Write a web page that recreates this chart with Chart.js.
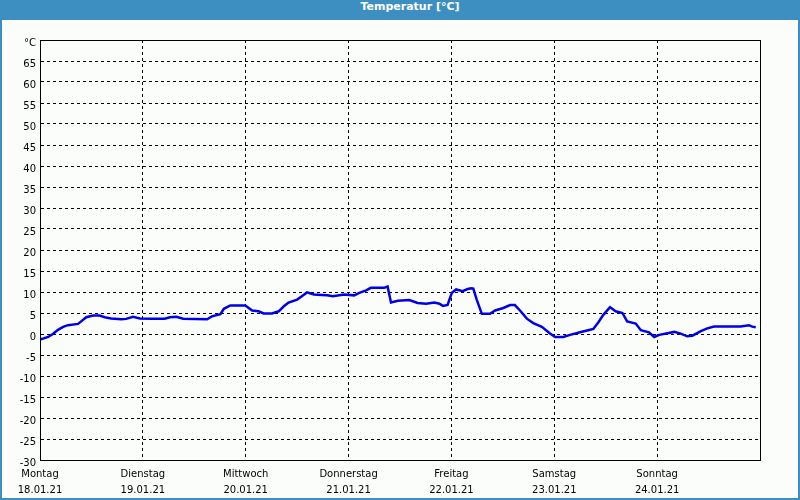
<!DOCTYPE html>
<html>
<head>
<meta charset="utf-8">
<script src="https://cdn.jsdelivr.net/npm/chart.js@4/dist/chart.umd.min.js"></script>
<style>
  body { margin: 0; background: #ffffff; }
  #rahmen {
    width: 796px; height: 498px;
    border: 2px solid #3d8fc1; border-top: none;
    background: #fbfdfb;
  }
  #titel {
    height: 20px; line-height: 20px;
    margin: 0 -2px;
    background: #3d8fc1; color: #ffffff;
    font: bold 11px "DejaVu Sans", sans-serif;
    text-align: center; padding-left: 20px;
  }
</style>
</head>
<body>
<div id="rahmen">
  <div id="titel">Temperatur [°C]</div>
  <canvas id="grafikTemperatur" width="796" height="478"></canvas>
</div>
<script>
// Wochentage und Datum unter den senkrechten Linien
const tage = ["Montag", "Dienstag", "Mittwoch", "Donnerstag", "Freitag", "Samstag", "Sonntag"]
const datum = ["18.01.21", "19.01.21", "20.01.21", "21.01.21", "22.01.21", "23.01.21", "24.01.21"]

// Messzeit in Stunden ab Montag 0:00
const stunden = [0, 1.9, 3.0, 4.2, 5.4, 6.5, 8.9, 9.6, 10.8, 12.4, 13.9, 15.1, 16.6, 19.0, 20.1, 21.7, 23.3,
  26.0, 29.1, 30.3, 31.8, 33.4, 39.0, 40.1, 42.1, 42.9, 44.4, 47.9,
  48.7, 49.5, 51.0, 52.2, 54.1, 55.7, 56.9, 58.0, 60.0, 61.1, 62.3, 63.9, 65.8, 67.0, 68.3, 71.0,
  73.3, 74.5, 76.1, 77.2, 80.3, 81.1, 81.9, 83.5, 86.2, 88.1, 90.1, 92.0, 93.2, 94.0, 95.1,
  96.1, 97.1, 98.6, 99.8, 100.6, 101.1, 101.9, 103.1, 105.0, 106.2, 108.1, 109.7, 110.8, 112.0, 113.6, 115.1, 117.1, 119.0,
  120.2, 122.1, 123.7, 126.0, 127.9, 129.1, 130.3, 131.4, 133.0, 134.3, 135.9, 137.0, 139.0, 140.2, 142.1, 143.3,
  144.5, 146.4, 148.0, 149.5, 151.0, 152.2, 154.2, 155.7, 157.3, 161.9, 163.5, 165.4, 166.2, 167.0]

// Temperatur in °C
const temperatur = [-1.35, -0.7, 0.0, 1.0, 1.7, 2.1, 2.4, 3.0, 4.0, 4.4, 4.4, 4.0, 3.7, 3.5, 3.6, 4.1, 3.7,
  3.65, 3.65, 4.0, 4.1, 3.65, 3.5, 4.2, 4.7, 6.0, 6.8, 6.8,
  6.2, 5.6, 5.4, 4.9, 4.9, 5.4, 6.6, 7.5, 8.2, 9.0, 9.9, 9.4, 9.3, 9.2, 9.0, 9.4,
  9.2, 9.8, 10.4, 11.0, 11.0, 11.3, 7.5, 7.9, 8.1, 7.4, 7.2, 7.5, 7.2, 6.7, 6.9,
  9.8, 10.6, 10.2, 10.7, 10.9, 10.8, 8.2, 4.8, 4.8, 5.6, 6.2, 6.9, 6.9, 5.6, 3.65, 2.6, 1.7, 0.1,
  -0.7, -0.7, -0.2, 0.4, 0.9, 1.2, 2.8, 4.5, 6.4, 5.4, 5.0, 3.0, 2.5, 0.9, 0.4, -0.7,
  -0.2, 0.2, 0.5, 0.1, -0.55, -0.4, 0.7, 1.35, 1.8, 1.8, 1.8, 2.1, 1.75, 1.6]

const yTicks = [-30, -25, -20, -15, -10, -5, 0, 5, 10, 15, 20, 25, 30, 35, 40, 45, 50, 55, 60, 65, 70]

let punkte = stunden.map((h, i) => ({ x: h, y: temperatur[i] }))

const schrift = { family: "DejaVu Sans", size: 10 }

// Rahmen um die Zeichenfläche
const rahmenPlugin = {
  id: 'rahmenPlugin',
  afterDraw(chart) {
    const { ctx, chartArea } = chart
    ctx.save()
    ctx.strokeStyle = '#000000'
    ctx.lineWidth = 1
    ctx.strokeRect(chartArea.left + 0.5, chartArea.top + 0.5, chartArea.right - chartArea.left, chartArea.bottom - chartArea.top)
    ctx.restore()
  }
}

const grafikTemperatur = document.getElementById('grafikTemperatur')
const grafik = new Chart(grafikTemperatur, {
  type: 'line',
  data: {
    datasets: [{
      label: 'Temperatur',
      data: punkte,
      borderColor: '#0000e6',
      borderWidth: 2.5,
      pointRadius: 0,
      tension: 0
    }]
  },
  options: {
    responsive: false,
    animation: false,
    layout: { padding: { left: 0, right: 38, top: 20, bottom: 0 } },
    plugins: { legend: { display: false }, tooltip: { enabled: false } },
    scales: {
      x: {
        type: 'linear',
        min: 0,
        max: 168,
        afterBuildTicks: scale => {
          scale.ticks = [0, 24, 48, 72, 96, 120, 144, 168].map(v => ({ value: v }))
        },
        afterFit: scale => { scale.height = 38 },
        ticks: {
          autoSkip: false,
          maxRotation: 0,
          padding: 6,
          color: '#000000',
          font: { ...schrift, lineHeight: 1.65 },
          callback: (v) => {
            let i = Math.round(v / 24)
            return i < tage.length ? [tage[i], datum[i]] : ''
          }
        },
        grid: { color: '#000000', lineWidth: 1, drawTicks: false },
        border: { color: '#000000', dash: [3, 3] }
      },
      y: {
        min: -30,
        max: 70,
        afterBuildTicks: scale => {
          scale.ticks = yTicks.map(v => ({ value: v }))
        },
        afterFit: scale => { scale.width = 38 },
        ticks: {
          padding: 4,
          color: '#000000',
          font: schrift,
          labelOffset: 3,
          callback: v => v === 70 ? '°C' : v
        },
        grid: { color: '#000000', lineWidth: 1, drawTicks: false },
        border: { color: '#000000', dash: [3, 3] }
      }
    }
  },
  plugins: [rahmenPlugin]
})
</script>
</body>
</html>
